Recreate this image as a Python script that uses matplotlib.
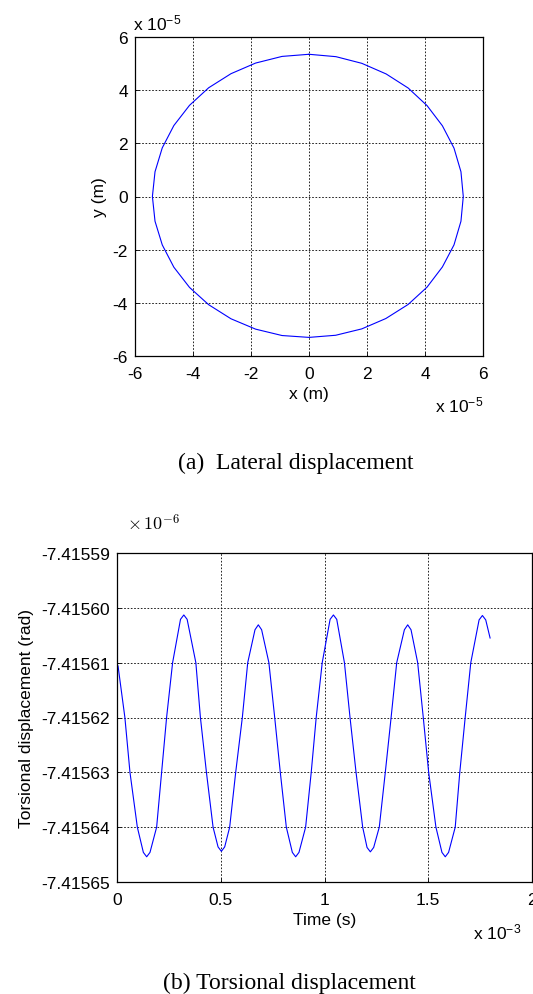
import numpy as np
import matplotlib
matplotlib.use("Agg")
import matplotlib.pyplot as plt
from matplotlib.ticker import FormatStrFormatter

plt.rcParams['font.family'] = ['Liberation Sans', 'DejaVu Sans']
plt.rcParams['font.size'] = 12.5
plt.rcParams['axes.unicode_minus'] = False

# lateral orbit, units of 1e-5 m
orbit_x = [0, 0.93, 1.82, 2.66, 3.42, 4.07, 4.60, 5.00, 5.24, 5.32, 5.24, 5.00, 4.60,
           4.07, 3.42, 2.65, 1.82, 0.92, 0, -0.93, -1.84, -2.69, -3.46, -4.12, -4.66,
           -5.06, -5.31, -5.40, -5.31, -5.06, -4.66, -4.12, -3.46, -2.69, -1.84, -0.93, 0]
orbit_y = [5.35, 5.26, 5.01, 4.61, 4.08, 3.42, 2.66, 1.82, 0.93, 0, -0.93, -1.82, -2.65,
           -3.41, -4.06, -4.59, -4.98, -5.22, -5.30, -5.23, -4.99, -4.60, -4.07, -3.42,
           -2.66, -1.82, -0.93, 0, 0.93, 1.83, 2.67, 3.43, 4.09, 4.62, 5.02, 5.27, 5.35]

# torsional displacement, time in 1e-3 s, angle in 1e-6 rad
t_ms = [0.005, 0.038, 0.0625, 0.098, 0.127, 0.143, 0.159, 0.191, 0.215, 0.239, 0.268,
        0.306, 0.322, 0.338, 0.380, 0.402, 0.431, 0.463, 0.487, 0.503, 0.519, 0.543,
        0.572, 0.604, 0.630, 0.665, 0.681, 0.697, 0.732, 0.760, 0.787, 0.816, 0.845,
        0.861, 0.877, 0.909, 0.936, 0.960, 0.989, 1.027, 1.043, 1.059, 1.096, 1.123,
        1.152, 1.184, 1.205, 1.221, 1.237, 1.264, 1.293, 1.321, 1.348, 1.385, 1.401,
        1.417, 1.449, 1.476, 1.502, 1.537, 1.566, 1.582, 1.598, 1.630, 1.652, 1.678,
        1.705, 1.745, 1.761, 1.777, 1.798]
theta = [-7.4156106, -7.41562, -7.41563, -7.41564, -7.4156446, -7.4156454, -7.4156446,
         -7.41564, -7.41563, -7.41562, -7.41561, -7.4156021, -7.4156013, -7.4156021,
         -7.41561, -7.41562, -7.41563, -7.41564, -7.4156436, -7.4156444, -7.4156436,
         -7.41564, -7.41563, -7.41562, -7.41561, -7.4156040, -7.4156031, -7.4156040,
         -7.41561, -7.41562, -7.41563, -7.41564, -7.4156446, -7.4156454, -7.4156446,
         -7.41564, -7.41563, -7.41562, -7.41561, -7.4156021, -7.4156013, -7.4156021,
         -7.41561, -7.41562, -7.41563, -7.41564, -7.4156437, -7.4156445, -7.4156437,
         -7.41564, -7.41563, -7.41562, -7.41561, -7.4156040, -7.4156031, -7.4156040,
         -7.41561, -7.41562, -7.41563, -7.41564, -7.4156446, -7.4156454, -7.4156446,
         -7.41564, -7.41563, -7.41562, -7.41561, -7.4156022, -7.4156014, -7.4156022,
         -7.4156055]

lat_ticks = [-6, -4, -2, 0, 2, 4, 6]
time_ticks = [0, 0.5, 1, 1.5, 2]
time_labels = ['0', '0.5', '1', '1.5', '2']
tors_ticks = [-7.41565, -7.41564, -7.41563, -7.41562, -7.41561, -7.41560, -7.41559]

W, H = 533, 995
fig = plt.figure(figsize=(W / 100, H / 100), dpi=100)


def style(ax):
    ax.grid(True, color='k', linestyle=(0, (2, 2)), linewidth=0.6)
    ax.tick_params(direction='in', length=3, width=0.6, labelsize=12.5)
    ax.tick_params(axis='x', pad=7)
    ax.tick_params(axis='y', pad=5)
    for s in ax.spines.values():
        s.set_linewidth(0.9)


# (a) lateral
ax1 = fig.add_axes([135 / W, 1 - 357 / H, 348 / W, 319 / H])
ax1.plot(orbit_x, orbit_y, color='b', linewidth=0.8)
ax1.set_xlim(-6, 6)
ax1.set_ylim(-6, 6)
ax1.set_xticks(lat_ticks)
ax1.set_yticks(lat_ticks)
style(ax1)
ax1.set_xlabel('x (m)', labelpad=4)
ax1.set_ylabel('y (m)', labelpad=4)
fig.text(133 / W, 1 - 23 / H, r'x $\mathregular{10^{-5}}$', ha='left', va='center')
fig.text(483 / W, 1 - 405 / H, r'x $\mathregular{10^{-5}}$', ha='right', va='center')
fig.text(296 / W, 1 - 463 / H, '(a)  Lateral displacement', ha='center', va='center',
         fontsize=17, family=['Liberation Serif', 'DejaVu Serif'])

# (b) torsional
ax2 = fig.add_axes([117 / W, 1 - 883 / H, 415 / W, 329 / H])
ax2.plot(t_ms, theta, color='b', linewidth=0.8)
ax2.set_xlim(0, 2)
ax2.set_ylim(-7.41565, -7.41559)
ax2.set_xticks(time_ticks)
ax2.set_xticklabels(time_labels)
ax2.set_yticks(tors_ticks)
ax2.yaxis.set_major_formatter(FormatStrFormatter('%.5f'))
style(ax2)
ax2.set_xlabel('Time (s)', labelpad=4)
ax2.set_ylabel('Torsional displacement (rad)', labelpad=5)
fig.text(127 / W, 1 - 524 / H, r'$\times\,10^{-6}$', ha='left', va='center', fontsize=13,
         math_fontfamily='cm')
fig.text(521 / W, 1 - 932 / H, r'x $\mathregular{10^{-3}}$', ha='right', va='center')
fig.text(289 / W, 1 - 983 / H, '(b) Torsional displacement', ha='center', va='center',
         fontsize=17, family=['Liberation Serif', 'DejaVu Serif'])

fig.savefig('out.png', dpi=100)
